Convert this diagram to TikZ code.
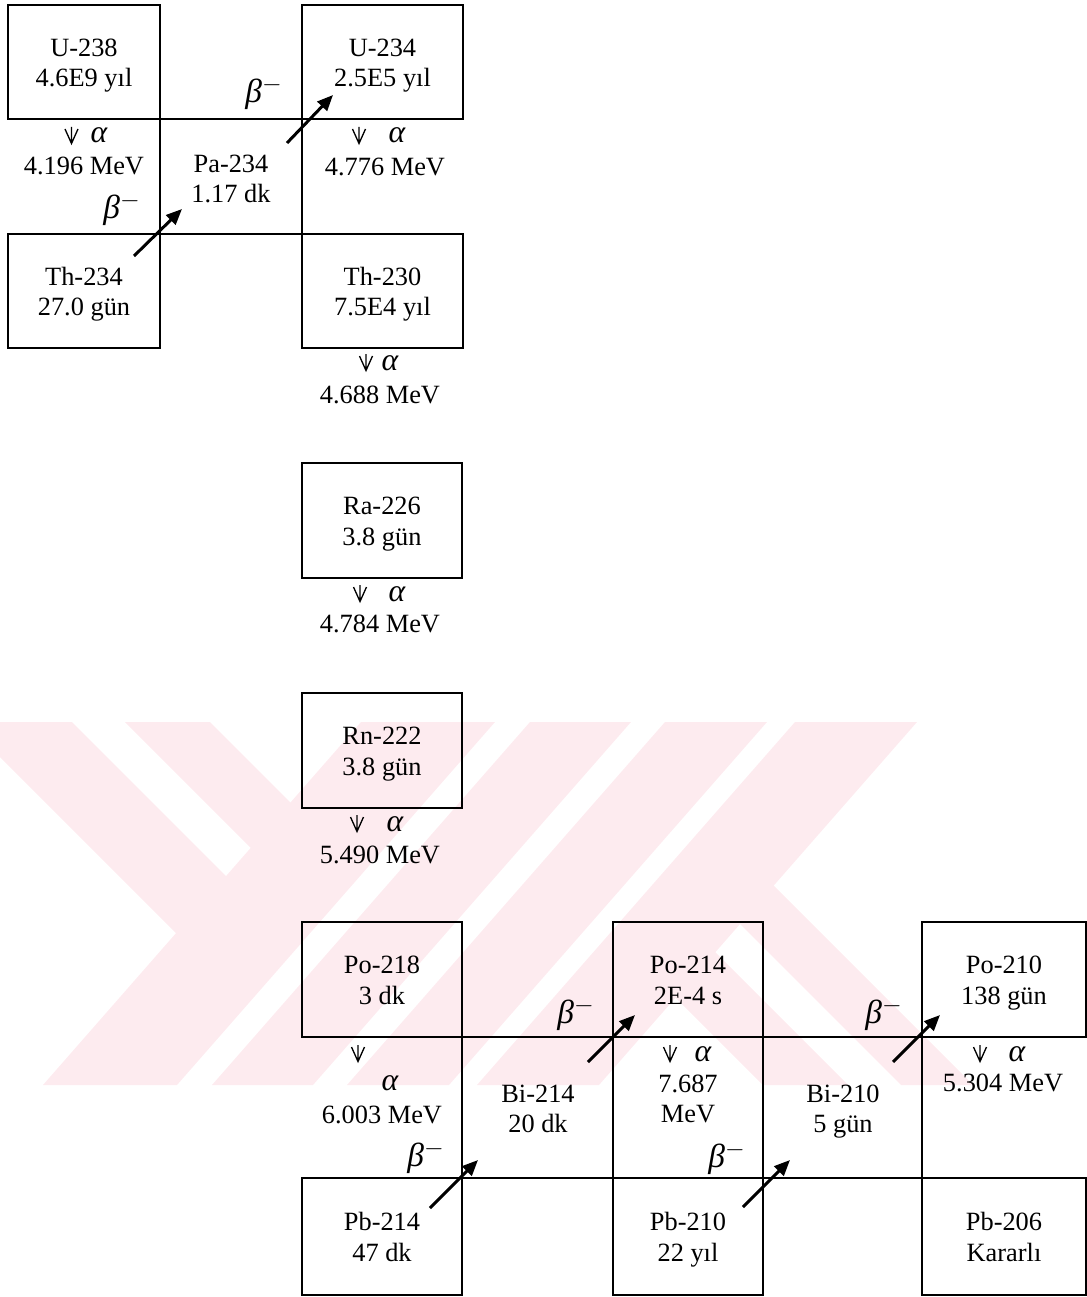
\documentclass[tikz,border=0pt]{standalone}
\usepackage{fontspec}
\setmainfont{Liberation Serif}
\usetikzlibrary{arrows.meta}
\definecolor{wmpink}{RGB}{253,235,239}
\newcommand{\bxt}{\rule{0pt}{14.8pt}}
\newcommand{\bxb}{\rule[-4pt]{0pt}{4pt}}
\newcommand{\betam}{{\itshape β}$^{-}$}
\newcommand{\alp}{{\itshape α}}
\tikzset{
  nuc/.style={draw, line width=0.9pt, inner sep=0pt, outer sep=0pt, align=center,
    font=\fontsize{15}{17.6}\selectfont, minimum height=2.3cm},
  lbl/.style={inner sep=0pt, align=center, font=\fontsize{15}{17.6}\selectfont},
  gridline/.style={line width=0.9pt},
  betaarrow/.style={line width=1.7pt, -{Triangle[length=9pt,width=7.5pt]}},
  blbl/.style={inner sep=0pt, font=\fontsize{19}{22}\selectfont},
  albl/.style={inner sep=0pt, font=\fontsize{18}{20}\selectfont},
  vsym/.pic={\draw[line width=0.75pt] (-6.5,-6)--(0,8.5)--(6.5,-6) (0,-8)--(0,8.5);}
}
\begin{document}
\begin{tikzpicture}[x=0.02cm,y=-0.02cm]
\useasboundingbox (0,0) rectangle (1087,1297);
% watermark
\begin{scope}
\clip (0,722) rectangle (1087,1085);
\fill[wmpink] (361,722)--(495,722)--(177,1085)--(43,1085)--cycle;
\fill[wmpink] (530,722)--(631,722)--(313,1085)--(212,1085)--cycle;
\fill[wmpink] (665,722)--(767,722)--(449,1085)--(347,1085)--cycle;
\fill[wmpink] (795,722)--(917,722)--(599,1085)--(477,1085)--cycle;
\fill[wmpink] (-35,722)--(72,722)--(290,940)--(183,940)--cycle;
\fill[wmpink] (125,722)--(210,722)--(348,860)--(263,860)--cycle;
\fill[wmpink] (676,860)--(748,860)--(973,1085)--(901,1085)--cycle;
\fill[wmpink] (618,940)--(703,940)--(848,1085)--(763,1085)--cycle;
\end{scope}
% nuclide boxes
\node[nuc, minimum width=3.04cm, minimum height=2.28cm] (u238) at (84,62) {\bxt U-238\\4.6E9 yıl\bxb};
\node[nuc, minimum width=3.22cm, minimum height=2.28cm] (u234) at (382.5,62) {\bxt U-234\\2.5E5 yıl\bxb};
\node[nuc, minimum width=3.04cm, minimum height=2.28cm] (th234) at (84,291) {\bxt Th-234\\27.0 gün\bxb};
\node[nuc, minimum width=3.22cm, minimum height=2.28cm] (th230) at (382.5,291) {\bxt Th-230\\7.5E4 yıl\bxb};
\node[nuc, minimum width=3.2cm] (ra226) at (382,520.5) {\bxt Ra-226\\3.8 gün\bxb};
\node[nuc, minimum width=3.2cm] (rn222) at (382,750.5) {\bxt Rn-222\\3.8 gün\bxb};
\node[nuc, minimum width=3.2cm] (po218) at (382,979.5) {\bxt Po-218\\3 dk\bxb};
\node[nuc, minimum width=3.0cm] (po214) at (688,979.5) {\bxt Po-214\\2E-4 s\bxb};
\node[nuc, minimum width=3.28cm] (po210) at (1004,979.5) {\bxt Po-210\\138 gün\bxb};
\node[nuc, minimum width=3.2cm, minimum height=2.34cm] (pb214) at (382,1236.5) {\bxt Pb-214\\47 dk\bxb};
\node[nuc, minimum width=3.0cm, minimum height=2.34cm] (pb210) at (688,1236.5) {\bxt Pb-210\\22 yıl\bxb};
\node[nuc, minimum width=3.28cm, minimum height=2.34cm] (pb206) at (1004,1236.5) {\bxt Pb-206\\Kararlı\bxb};
% middle (beta-emitter) cells
\node[lbl] (pa234) at (231,178) {\bxt Pa-234\\1.17 dk\bxb};
\node[lbl] (bi214) at (538,1108) {\bxt Bi-214\\20 dk\bxb};
\node[lbl] (bi210) at (843,1108) {\bxt Bi-210\\5 gün\bxb};
% grid lines
\draw[gridline] (u238.south east) -- (u234.south west);
\draw[gridline] (th234.north east) -- (th230.north west);
\draw[gridline] (u238.south east) -- (th234.north east);
\draw[gridline] (u234.south west) -- (th230.north west);
\draw[gridline] (po218.south east) -- (po214.south west);
\draw[gridline] (po214.south east) -- (po210.south west);
\draw[gridline] (pb214.north east) -- (pb210.north west);
\draw[gridline] (pb210.north east) -- (pb206.north west);
\draw[gridline] (po218.south east) -- (pb214.north east);
\draw[gridline] (po214.south west) -- (pb210.north west);
\draw[gridline] (po214.south east) -- (pb210.north east);
\draw[gridline] (po210.south west) -- (pb206.north west);
% alpha decays
\pic at (71.5,135) {vsym};
\node[albl] (a1) at (99,135) {\alp};
\node[lbl] (e1) at (84,166) {4.196 MeV};
\pic at (359,135) {vsym};
\node[albl] (a2) at (397,135) {\alp};
\node[lbl] (e2) at (385,167) {4.776 MeV};
\pic at (366,362) {vsym};
\node[albl] (a3) at (390,363) {\alp};
\node[lbl] (e3) at (380,395) {4.688 MeV};
\pic at (360,593) {vsym};
\node[albl] (a4) at (397,594) {\alp};
\node[lbl] (e4) at (380,624) {4.784 MeV};
\pic at (357,823) {vsym};
\node[albl] (a5) at (395,824) {\alp};
\node[lbl] (e5) at (380,855) {5.490 MeV};
\pic at (358,1053) {vsym};
\node[albl] (a6) at (390,1083) {\alp};
\node[lbl] (e6) at (382,1115) {6.003 MeV};
\pic at (670,1053) {vsym};
\node[albl] (a7) at (703,1054) {\alp};
\node[lbl] (e7) at (688,1098) {\bxt 7.687\\MeV\bxb};
\pic at (980,1053) {vsym};
\node[albl] (a8) at (1017,1054) {\alp};
\node[lbl] (e8) at (1003,1083) {5.304 MeV};
% beta decays
\node[blbl] (b1) at (264,93) {\betam};
\node[blbl] (b2) at (122,209) {\betam};
\node[blbl] (b3) at (576,1014) {\betam};
\node[blbl] (b4) at (426,1157) {\betam};
\node[blbl] (b5) at (884,1014) {\betam};
\node[blbl] (b6) at (727,1158) {\betam};
\coordinate (s1) at (287,143); \coordinate (t1) at (333,95);
\coordinate (s2) at (134,256); \coordinate (t2) at (182,209);
\coordinate (s3) at (430,1208); \coordinate (t3) at (478,1160);
\coordinate (s4) at (588,1062); \coordinate (t4) at (635,1015);
\coordinate (s5) at (743,1207); \coordinate (t5) at (790,1160);
\coordinate (s6) at (893,1062); \coordinate (t6) at (940,1015);
\draw[betaarrow] (s1) -- (t1);
\draw[betaarrow] (s2) -- (t2);
\draw[betaarrow] (s3) -- (t3);
\draw[betaarrow] (s4) -- (t4);
\draw[betaarrow] (s5) -- (t5);
\draw[betaarrow] (s6) -- (t6);
\end{tikzpicture}
\end{document}
